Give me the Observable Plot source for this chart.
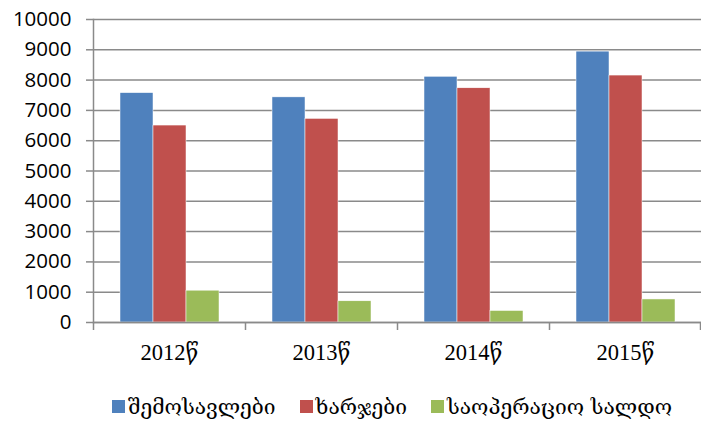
<!DOCTYPE html>
<html>
<head>
<meta charset="utf-8">
<script src="https://cdn.jsdelivr.net/npm/d3@7"></script>
<script src="https://cdn.jsdelivr.net/npm/@observablehq/plot@0.6"></script>
<style>
  body { margin: 0; background: #fff; }
  #wrap { position: relative; width: 701px; height: 424px; }
  #legend {
    position: absolute; top: 394px; left: 112px; height: 25px;
    display: flex; align-items: center;
    font-family: "DejaVu Serif", serif; font-size: 21px; color: #000;
  }
  #legend .item { display: flex; align-items: center; margin-right: 24px; }
  #legend .sw { width: 13px; height: 13px; margin-right: 3px; }
</style>
</head>
<body>
<div id="wrap">
  <div id="chart"></div>
  <div id="legend"></div>
</div>
<script>
const years = ["2012წ", "2013წ", "2014წ", "2015წ"];
const series = ["შემოსავლები", "ხარჯები", "საოპერაციო სალდო"];
const income = [7570, 7430, 8110, 8940];
const expenses = [6500, 6720, 7730, 8150];
const balance = [1050, 700, 380, 760];
const colors = ["#4F81BD", "#C0504D", "#9BBB59"];
const yTicks = d3.range(0, 10001, 1000);

const data = years.flatMap((year, i) => [
  {year, series: series[0], value: income[i]},
  {year, series: series[1], value: expenses[i]},
  {year, series: series[2], value: balance[i]}
]);

const gridColor = "#8a8a8a";
const step = (701 - 93) / years.length;

let chart = Plot.plot({
  width: 701,
  height: 370,
  marginLeft: 93,
  marginRight: 0,
  marginTop: 19,
  marginBottom: 48,
  fx: {domain: years, padding: 0, axis: null},
  x: {domain: series, paddingInner: 0, paddingOuter: 0.757, axis: null},
  y: {domain: [0, 10000]},
  color: {domain: series, range: colors},
  marks: [
    Plot.gridY(yTicks, {stroke: gridColor, strokeOpacity: 1, strokeWidth: 1.5}),
    Plot.barY(data, {
      fx: "year", x: "series", y: "value", fill: "series",
      stroke: "#fff", strokeWidth: 0.5
    }),
    Plot.frame({anchor: "left", facet: "super", stroke: gridColor, strokeWidth: 1.5}),
    Plot.frame({anchor: "bottom", facet: "super", stroke: gridColor, strokeWidth: 1.5}),
    Plot.axisY({
      ticks: yTicks, tickSize: 7, tickPadding: 15, label: null, tickFormat: d => String(d),
      stroke: gridColor, strokeWidth: 1.5, color: "#000",
      fontSize: 20.5, fontFamily: "Open Sans, sans-serif"
    }),
    // ticks on the category boundaries
    Plot.axisFx({anchor: "bottom", tickSize: 8, tickFormat: () => "", dx: -step / 2, label: null, stroke: gridColor, strokeWidth: 1.5}),
    Plot.axisFx({anchor: "bottom", ticks: [years[years.length - 1]], tickSize: 8, tickFormat: () => "", dx: step / 2 - 1, label: null, stroke: gridColor, strokeWidth: 1.5}),
    Plot.axisFx({
      anchor: "bottom", tickSize: 0, tickPadding: 22, label: null, color: "#000",
      fontSize: 22.5, fontFamily: "Liberation Serif, DejaVu Serif, serif"
    })
  ]
});
d3.select("#chart").append(() => chart);

const legend = d3.select("#legend");
series.forEach((s, i) => {
  const item = legend.append("div").attr("class", "item");
  item.append("div").attr("class", "sw").style("background", colors[i]);
  item.append("span").text(s);
});
</script>
</body>
</html>
